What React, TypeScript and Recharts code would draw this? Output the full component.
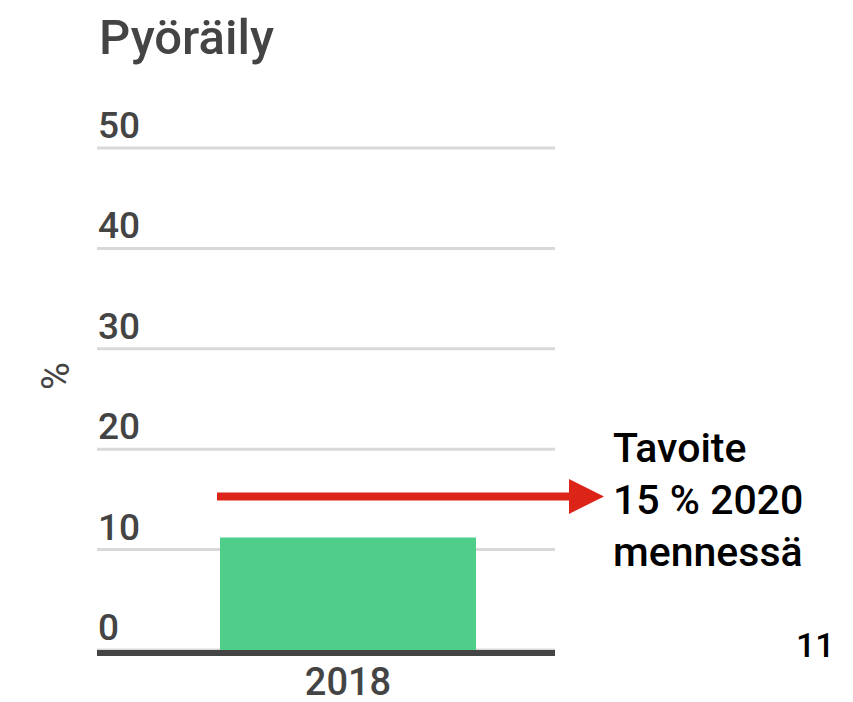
import { BarChart, Bar, XAxis, YAxis, CartesianGrid, ReferenceLine } from "recharts";

const years = ["2018"];
const shares = [11.2];
const yTicks = [0, 10, 20, 30, 40, 50];
const target = 15.3;
const noteLines = ["Tavoite", "15 % 2020", "mennessä"];

const data = years.map((year, i) => ({ year, share: shares[i] }));

const FONT = "Roboto, 'Noto Sans', sans-serif";
const GREY = "#444444";
const LABEL_X = 98;

function YTick(props: any) {
  const { y, payload } = props;
  return (
    <text x={LABEL_X} y={y - 10} textAnchor="start" fill={GREY} fontSize={37} fontWeight={500} fontFamily={FONT}>
      {payload.value}
    </text>
  );
}

function XTick(props: any) {
  const { x, y, payload } = props;
  return (
    <text x={x} y={y + 37} textAnchor="middle" fill={GREY} fontSize={38} fontWeight={500} fontFamily={FONT}>
      {payload.value}
    </text>
  );
}

function Arrow(props: any) {
  const { x1, x2, y1 } = props;
  const start = x1 + 120;
  const tip = x2 + 49;
  const headLen = 35;
  const headHalf = 17.5;
  return (
    <g>
      <line x1={start} y1={y1} x2={tip - headLen + 1} y2={y1} stroke="#dc2418" strokeWidth={8} />
      <polygon
        points={`${tip - headLen},${y1 - headHalf} ${tip},${y1} ${tip - headLen},${y1 + headHalf}`}
        fill="#dc2418"
      />
    </g>
  );
}

export default function App() {
  return (
    <div style={{ position: "absolute", left: 0, top: 0, width: 853, height: 702, fontFamily: FONT }}>
      <div
        style={{
          position: "absolute",
          left: 99,
          top: 6,
          fontSize: 49,
          fontWeight: 500,
          color: GREY,
          lineHeight: "64px",
        }}
      >
        Pyöräily
      </div>
      <div
        style={{
          position: "absolute",
          left: 36,
          top: 356,
          width: 40,
          height: 40,
          fontSize: 38,
          color: GREY,
          textAlign: "center",
          transform: "rotate(-90deg)",
          transformOrigin: "center",
          lineHeight: "40px",
        }}
      >
        %
      </div>
      <BarChart
        width={853}
        height={702}
        data={data}
        margin={{ top: 148, right: 298, left: 0, bottom: 0 }}
        style={{ overflow: "visible" }}
      >
        <CartesianGrid vertical={false} stroke="#d9d9d9" strokeWidth={3} />
        <YAxis
          domain={[0, 50]}
          ticks={yTicks}
          width={97}
          axisLine={false}
          tickLine={false}
          tick={<YTick />}
        />
        <XAxis
          dataKey="year"
          height={52}
          padding={{ left: 44, right: 0 }}
          tickLine={false}
          axisLine={{ stroke: GREY, strokeWidth: 6, transform: "translate(0,3)" }}
          tick={<XTick />}
        />
        <Bar dataKey="share" fill="#4fce8a" barSize={256} isAnimationActive={false} />
        <ReferenceLine y={target} ifOverflow="visible" shape={<Arrow />} />
      </BarChart>
      <div
        style={{
          position: "absolute",
          left: 613,
          top: 422,
          fontSize: 41,
          fontWeight: 500,
          color: "#000",
          lineHeight: "52px",
        }}
      >
        {noteLines.map((line) => (
          <div key={line}>{line}</div>
        ))}
      </div>
      <div
        style={{
          position: "absolute",
          left: 796,
          top: 625,
          fontSize: 34,
          fontWeight: 500,
          color: "#000",
          lineHeight: "40px",
        }}
      >
        11
      </div>
    </div>
  );
}
